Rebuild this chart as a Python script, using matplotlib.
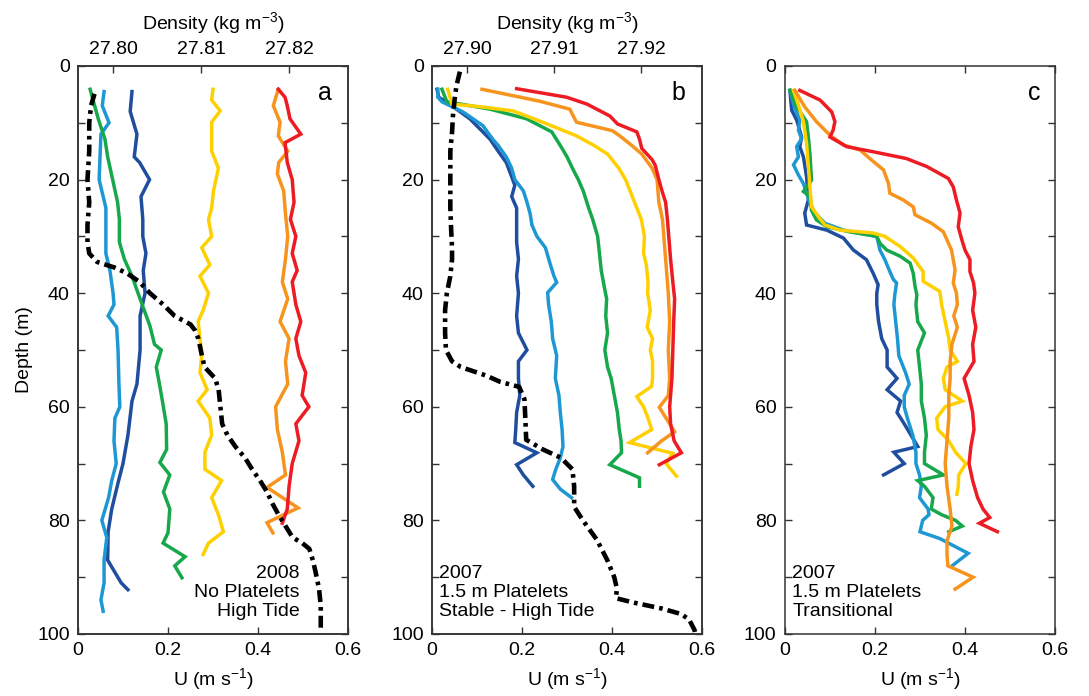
import matplotlib.pyplot as plt
from matplotlib.ticker import MultipleLocator

plt.rcParams['font.family'] = ['Liberation Sans', 'DejaVu Sans']
plt.rcParams['mathtext.default'] = 'regular'
plt.rcParams['font.size'] = 14

# colours of the six velocity profiles (same order in every panel)
c_dblue = '#1f4e9e'
c_lblue = '#1e98d4'
c_green = '#17a84b'
c_yellow = '#ffd000'
c_orange = '#f7941d'
c_red = '#ed1c24'

# ---------------- panel a : 2008, no platelets, high tide ----------------
a_dblue_d = [4.5, 8, 12, 16, 17, 20, 23, 27, 30, 33, 36, 40, 44, 50, 56, 59, 65, 70, 73.4, 78, 82, 87, 89, 91, 92.2]
a_dblue_u = [0.12, 0.116, 0.131, 0.125, 0.137, 0.159, 0.14, 0.144, 0.144, 0.151, 0.145, 0.149, 0.138, 0.138, 0.131, 0.12, 0.111, 0.1, 0.089, 0.075, 0.067, 0.066, 0.081, 0.096, 0.111]
a_lblue_d = [4.5, 7, 10, 12, 16, 20, 25, 30, 33, 36, 40, 42, 44, 46, 50, 56, 60, 62, 66, 70, 73, 76, 80, 83, 87, 91, 94, 96]
a_lblue_u = [0.058, 0.054, 0.069, 0.051, 0.049, 0.047, 0.062, 0.062, 0.062, 0.071, 0.078, 0.080, 0.067, 0.086, 0.089, 0.091, 0.093, 0.082, 0.080, 0.085, 0.075, 0.068, 0.053, 0.064, 0.058, 0.058, 0.051, 0.056]
a_green_d = [4.1, 9.3, 12.9, 16, 20, 24, 27, 31, 34, 37, 41, 45.8, 49, 50, 53, 56, 58.7, 63, 67.5, 69.8, 72, 75, 78, 82.2, 84, 86.4, 88, 90.1]
a_green_u = [0.027, 0.045, 0.06, 0.066, 0.077, 0.088, 0.092, 0.092, 0.103, 0.12, 0.138, 0.16, 0.17, 0.185, 0.174, 0.181, 0.187, 0.196, 0.197, 0.182, 0.204, 0.19, 0.204, 0.2, 0.189, 0.238, 0.215, 0.231]
a_yellow_d = [4.1, 6, 7.9, 9.9, 12.9, 15, 18, 22, 25, 27, 30, 32, 35, 37, 40, 43, 45, 48, 51, 54, 57, 59, 62, 65, 68, 71, 73, 76, 79, 82, 84, 86]
a_yellow_u = [0.3, 0.297, 0.316, 0.297, 0.297, 0.297, 0.312, 0.301, 0.297, 0.29, 0.297, 0.275, 0.293, 0.271, 0.29, 0.278, 0.267, 0.271, 0.275, 0.271, 0.287, 0.267, 0.293, 0.297, 0.282, 0.282, 0.319, 0.297, 0.312, 0.323, 0.29, 0.278]
a_orange_d = [4.1, 7, 9.9, 12.3, 15, 17, 19, 22, 26, 30, 34, 38, 41, 45, 48, 52, 56, 60, 64, 68, 72, 74.2, 77.8, 80.4, 82.2]
a_orange_u = [0.445, 0.434, 0.449, 0.445, 0.466, 0.446, 0.443, 0.457, 0.461, 0.466, 0.461, 0.454, 0.466, 0.449, 0.469, 0.461, 0.466, 0.439, 0.443, 0.454, 0.461, 0.42, 0.489, 0.42, 0.433]
a_red_d = [4.1, 5.5, 7, 9.3, 12, 13.5, 17, 20, 24, 27, 30, 33, 36, 38, 42, 45, 48, 51, 54, 58, 60, 63, 66, 70, 74, 78, 80.5]
a_red_u = [0.445, 0.46, 0.465, 0.471, 0.495, 0.46, 0.465, 0.476, 0.48, 0.472, 0.484, 0.476, 0.487, 0.476, 0.484, 0.495, 0.484, 0.491, 0.506, 0.498, 0.513, 0.484, 0.491, 0.476, 0.469, 0.465, 0.454]
a_rho_d = [4.9, 7, 10, 15, 20, 24, 28, 31, 33, 34.5, 35.5, 36.5, 38, 40, 42, 44, 45.5, 46.5, 48, 51, 53, 55, 57, 60, 63, 65, 67, 69, 71, 73, 75, 77, 79, 81, 83, 84, 85, 87, 89, 92, 95, 98, 99.5]
a_rho = [27.7979, 27.7975, 27.7973, 27.7973, 27.7971, 27.7973, 27.7971, 27.7971, 27.7973, 27.7982, 27.8002, 27.8016, 27.8030,
         27.8042, 27.8057, 27.8070, 27.8088, 27.8093, 27.8097, 27.8101, 27.8104, 27.8116, 27.8120, 27.8122, 27.8124, 27.8130,
         27.8139, 27.8150, 27.8158, 27.8167, 27.8175, 27.8181, 27.8188, 27.8196, 27.8204, 27.8215, 27.8223, 27.8227, 27.8230,
         27.8234, 27.8236, 27.8236, 27.8236]

# ---------------- panel b : 2007, 1.5 m platelets, stable ----------------
b_dblue_d = [4.1, 5.5, 7, 9.3, 11.6, 12.9, 15, 17, 19.5, 21, 23, 25, 28, 31, 34, 37, 40, 44, 47, 50, 52, 55, 58, 61, 64, 66.3, 68.1, 70.2, 72, 74]
b_dblue_u = [0.011, 0.015, 0.044, 0.084, 0.113, 0.129, 0.147, 0.165, 0.177, 0.184, 0.177, 0.188, 0.188, 0.188, 0.192, 0.188, 0.192, 0.188, 0.192, 0.211, 0.192, 0.192, 0.195, 0.188, 0.186, 0.184, 0.233, 0.188, 0.203, 0.224]
b_lblue_d = [4.1, 5.5, 6.3, 8.1, 10.5, 12.9, 14, 16, 18, 20, 22, 24, 26, 28, 30, 32, 35, 37, 38.1, 39.9, 42, 45, 48, 51, 55, 58, 61, 64, 67, 69, 71, 72.8, 74.5, 76]
b_lblue_u = [0.013, 0.013, 0.022, 0.069, 0.113, 0.135, 0.147, 0.165, 0.177, 0.184, 0.203, 0.211, 0.218, 0.222, 0.233, 0.252, 0.263, 0.271, 0.277, 0.257, 0.259, 0.265, 0.268, 0.277, 0.274, 0.282, 0.285, 0.289, 0.291, 0.285, 0.275, 0.268, 0.285, 0.310]
b_green_d = [4.1, 6.3, 7.6, 9.3, 11.6, 14, 16, 18, 20, 22, 25, 27, 30, 33, 36, 39, 41, 44, 47, 50, 53, 55, 58, 61, 64, 66, 68.1, 70.2, 72.5, 74]
b_green_u = [0.022, 0.033, 0.129, 0.21, 0.266, 0.285, 0.3, 0.312, 0.325, 0.336, 0.348, 0.357, 0.368, 0.372, 0.376, 0.383, 0.388, 0.386, 0.39, 0.384, 0.39, 0.398, 0.405, 0.412, 0.416, 0.42, 0.421, 0.395, 0.461, 0.461]
b_yellow_d = [4.1, 5.5, 6.7, 7.2, 7.9, 9.9, 12.3, 14, 15.5, 17, 18, 20, 22, 25, 27, 30, 33, 35, 38, 40, 43, 46, 48, 50, 52, 55, 56.4, 58.2, 60, 62, 64, 66.3, 68.2, 70, 72.2]
b_yellow_u = [0.035, 0.04, 0.044, 0.11, 0.18, 0.246, 0.321, 0.36, 0.39, 0.405, 0.415, 0.43, 0.44, 0.455, 0.465, 0.472, 0.47, 0.476, 0.48, 0.479, 0.485, 0.478, 0.49, 0.485, 0.49, 0.49, 0.488, 0.455, 0.47, 0.48, 0.488, 0.439, 0.535, 0.52, 0.543]
b_orange_d = [4.1, 6.2, 7.6, 9.9, 11.4, 12.3, 14, 15.5, 18, 20, 24, 27, 30, 35, 40, 45, 50, 55, 58, 60.1, 62, 64.4, 66, 68.1]
b_orange_u = [0.111, 0.239, 0.306, 0.321, 0.401, 0.417, 0.444, 0.466, 0.489, 0.5, 0.504, 0.512, 0.515, 0.52, 0.525, 0.528, 0.525, 0.528, 0.525, 0.505, 0.52, 0.539, 0.51, 0.479]
b_red_d = [4.0, 5.5, 6.7, 8.8, 10.2, 11.6, 12.9, 14.5, 16.5, 17.5, 20, 22, 24, 27, 30, 34, 38, 41, 45, 50, 55, 60, 63, 66, 68.1, 70.2]
b_red_u = [0.188, 0.299, 0.344, 0.395, 0.412, 0.455, 0.461, 0.466, 0.489, 0.496, 0.504, 0.511, 0.519, 0.523, 0.526, 0.530, 0.535, 0.539, 0.537, 0.535, 0.533, 0.528, 0.530, 0.538, 0.554, 0.505]
b_rho_d = [1, 3.5, 5.8, 8.8, 11.6, 15, 20, 25, 29, 32, 34, 37, 40, 43, 47, 50, 52, 53, 54.5, 55.6, 56.5, 58.7, 62, 65.8, 67.5,
           69, 71, 74, 77.6, 80, 83.4, 87, 90, 92, 93.7, 94.5, 95.5, 96.5, 97.5, 99.3, 100]
b_rho = [27.8992, 27.8988, 27.8986, 27.8984, 27.8983, 27.8981, 27.8981, 27.8981, 27.8982, 27.8983, 27.8983, 27.8981, 27.8977,
         27.8975, 27.8975, 27.8976, 27.8983, 27.8993, 27.9022, 27.9038, 27.9060, 27.9066, 27.9067, 27.9068, 27.9087, 27.9108,
         27.9121, 27.9123, 27.9123, 27.9133, 27.9149, 27.9161, 27.9169, 27.9172, 27.9171, 27.9192, 27.9223, 27.9246, 27.9255,
         27.9261, 27.9262]

# ---------------- panel c : 2007, 1.5 m platelets, transitional ----------------
c_dblue_d = [4.3, 7.8, 9.5, 12.5, 14.2, 16, 19.5, 23.6, 25.9, 28, 28.9, 30.3, 32.4, 34.1, 36.5, 38.5, 40, 42, 45, 48, 50, 53, 55, 57, 59, 61, 63, 65, 67, 68, 70, 72]
c_dblue_u = [0.011, 0.015, 0.026, 0.037, 0.033, 0.041, 0.048, 0.052, 0.044, 0.048, 0.093, 0.13, 0.152, 0.181, 0.196, 0.207, 0.204, 0.204, 0.208, 0.215, 0.227, 0.227, 0.249, 0.227, 0.257, 0.249, 0.265, 0.28, 0.295, 0.242, 0.265, 0.219]
c_lblue_d = [4.3, 7.5, 9.5, 11.3, 12.8, 14.2, 16, 17.4, 19.2, 20.7, 22.4, 24.2, 25.9, 27.7, 28.9, 30, 32.4, 34.1, 36.2, 37.6, 38.2, 40.3, 42, 45, 48, 51, 54, 56, 58, 60, 62, 65, 68, 70, 72, 74, 76, 78, 79, 80, 82, 83.2, 85.8, 87.9]
c_lblue_u = [0.011, 0.022, 0.033, 0.03, 0.037, 0.026, 0.03, 0.019, 0.03, 0.041, 0.048, 0.056, 0.067, 0.089, 0.13, 0.204, 0.211, 0.222, 0.233, 0.241, 0.248, 0.244, 0.242, 0.246, 0.25, 0.253, 0.268, 0.276, 0.265, 0.265, 0.272, 0.284, 0.291, 0.291, 0.299, 0.303, 0.299, 0.318, 0.32, 0.306, 0.300, 0.344, 0.407, 0.373]
c_green_d = [4.3, 7.2, 9.8, 12.5, 16, 20.1, 22.1, 23, 25.4, 27.1, 28.3, 29.2, 30, 31.2, 32.4, 33.5, 34.7, 36.5, 38.8, 40.3, 42, 45, 47, 50, 53, 56, 59, 62, 65, 68, 70, 72, 73, 74, 76, 78, 79, 80, 81, 82]
c_green_u = [0.011, 0.026, 0.048, 0.052, 0.056, 0.059, 0.041, 0.056, 0.059, 0.07, 0.093, 0.144, 0.204, 0.211, 0.226, 0.256, 0.278, 0.285, 0.289, 0.293, 0.291, 0.295, 0.31, 0.295, 0.299, 0.303, 0.303, 0.31, 0.314, 0.31, 0.31, 0.352, 0.295, 0.31, 0.329, 0.325, 0.348, 0.379, 0.394, 0.364]
c_yellow_d = [4.3, 6.9, 9.8, 13.6, 17.7, 21.8, 24.8, 26.5, 28, 28.9, 29.4, 30, 31.8, 33.8, 36.2, 37.9, 39.7, 42, 45, 48, 50, 52, 53, 55, 57, 59, 60, 62, 64, 66, 68, 70, 72, 74, 75.4]
c_yellow_u = [0.019, 0.03, 0.041, 0.048, 0.052, 0.056, 0.059, 0.074, 0.089, 0.122, 0.196, 0.222, 0.256, 0.285, 0.307, 0.307, 0.344, 0.348, 0.356, 0.364, 0.367, 0.383, 0.36, 0.352, 0.356, 0.394, 0.356, 0.337, 0.34, 0.364, 0.379, 0.402, 0.386, 0.385, 0.382]
c_orange_d = [4.3, 7.2, 9.8, 12.2, 13.9, 14.8, 16.6, 18.3, 20.7, 22.4, 23.6, 24.8, 26.2, 27.7, 29.2, 32.4, 35.9, 38.2, 40, 42, 44, 46, 49, 52, 55, 58, 62, 66, 70, 74, 78, 81, 83.6, 86, 88, 90, 92.1]
c_orange_u = [0.022, 0.044, 0.07, 0.1, 0.13, 0.167, 0.193, 0.219, 0.23, 0.233, 0.263, 0.285, 0.289, 0.326, 0.352, 0.37, 0.378, 0.374, 0.381, 0.383, 0.375, 0.383, 0.371, 0.367, 0.367, 0.364, 0.364, 0.36, 0.356, 0.36, 0.367, 0.371, 0.36, 0.36, 0.362, 0.418, 0.378]
c_red_d = [4.3, 6, 8.1, 9.8, 11.3, 12.5, 14.2, 15.1, 16.3, 17.7, 19.8, 21.3, 23.6, 25.9, 28.3, 30.6, 32.4, 34.1, 36.2, 38.2, 40, 43, 46, 49, 52, 55, 58, 61, 64, 67, 70, 73, 76, 78, 79.5, 80.5, 82]
c_red_u = [0.033, 0.078, 0.104, 0.111, 0.107, 0.1, 0.137, 0.196, 0.27, 0.315, 0.363, 0.374, 0.381, 0.389, 0.385, 0.393, 0.4, 0.411, 0.411, 0.419, 0.422, 0.417, 0.424, 0.417, 0.42, 0.398, 0.409, 0.417, 0.42, 0.413, 0.409, 0.417, 0.428, 0.44, 0.455, 0.432, 0.472]

u_ticks = [0, 0.2, 0.4, 0.6]
u_ticklabels = ['0', '0.2', '0.4', '0.6']
a_rho_ticks = [27.80, 27.81, 27.82]
b_rho_ticks = [27.90, 27.91, 27.92]
a_rho_lim = (27.79602, 27.82670)
b_rho_lim = (27.89600, 27.92697)

panel_letters = ['a', 'b', 'c']
panel_notes = ['2008\nNo Platelets\nHigh Tide',
               '2007\n1.5 m Platelets\nStable - High Tide',
               '2007\n1.5 m Platelets\nTransitional']

fig = plt.figure(figsize=(10.89, 6.96), dpi=100)
lefts = [0.0716, 0.3967, 0.7208]
axes = [fig.add_axes([l, 0.0891, 0.248, 0.8161]) for l in lefts]

profiles = [
    [(a_dblue_u, a_dblue_d), (a_lblue_u, a_lblue_d), (a_green_u, a_green_d), (a_yellow_u, a_yellow_d), (a_orange_u, a_orange_d), (a_red_u, a_red_d)],
    [(b_dblue_u, b_dblue_d), (b_lblue_u, b_lblue_d), (b_green_u, b_green_d), (b_yellow_u, b_yellow_d), (b_orange_u, b_orange_d), (b_red_u, b_red_d)],
    [(c_dblue_u, c_dblue_d), (c_lblue_u, c_lblue_d), (c_green_u, c_green_d), (c_yellow_u, c_yellow_d), (c_orange_u, c_orange_d), (c_red_u, c_red_d)],
]
colors = [c_dblue, c_lblue, c_green, c_yellow, c_orange, c_red]

black_dash = (0, (2.6, 1.1, 0.8, 1.1))

for i, ax in enumerate(axes):
    for (u, d), col in zip(profiles[i], colors):
        ax.plot(u, d, color=col, lw=2.5, solid_joinstyle='miter')
    ax.set_xlim(0, 0.6)
    ax.set_ylim(100, 0)
    ax.set_xticks(u_ticks)
    ax.set_xticklabels(u_ticklabels)
    ax.yaxis.set_major_locator(MultipleLocator(20))
    ax.yaxis.set_minor_locator(MultipleLocator(10))
    ax.tick_params(which='both', direction='in', length=5, width=1, color='#333333',
                   right=True, top=(i == 2), labelsize=14, pad=6)
    ax.set_xlabel('U (m s$^{-1}$)', fontsize=14, labelpad=5)
    for s in ax.spines.values():
        s.set_linewidth(1.1)
        s.set_color('#333333')
    ax.text(0.563 if i < 2 else 0.567, 6, panel_letters[i], ha='right', va='baseline', fontsize=18)
    if i == 0:
        ax.text(0.493, 97.6, panel_notes[i], ha='right', va='bottom', multialignment='right',
                fontsize=14, linespacing=1.15)
    else:
        ax.text(0.016, 97.6, panel_notes[i], ha='left', va='bottom', fontsize=14, linespacing=1.15)

axes[0].set_ylabel('Depth (m)', fontsize=14, labelpad=3)

# density profiles on a top axis
for ax, rd, rv, lim, ticks in [(axes[0], a_rho_d, a_rho, a_rho_lim, a_rho_ticks),
                               (axes[1], b_rho_d, b_rho, b_rho_lim, b_rho_ticks)]:
    tw = ax.twiny()
    tw.plot(rv, rd, color='black', lw=3.3, linestyle=black_dash)
    tw.set_xlim(*lim)
    tw.set_xticks(ticks)
    tw.set_xticklabels(['%.2f' % t for t in ticks])
    tw.tick_params(direction='in', length=5, width=1, color='#333333', labelsize=14, pad=6)
    tw.set_xlabel('Density (kg m$^{-3}$)', fontsize=14, labelpad=8)
    for s in tw.spines.values():
        s.set_linewidth(1.1)
        s.set_color('#333333')

fig.savefig('out.png', dpi=100)
